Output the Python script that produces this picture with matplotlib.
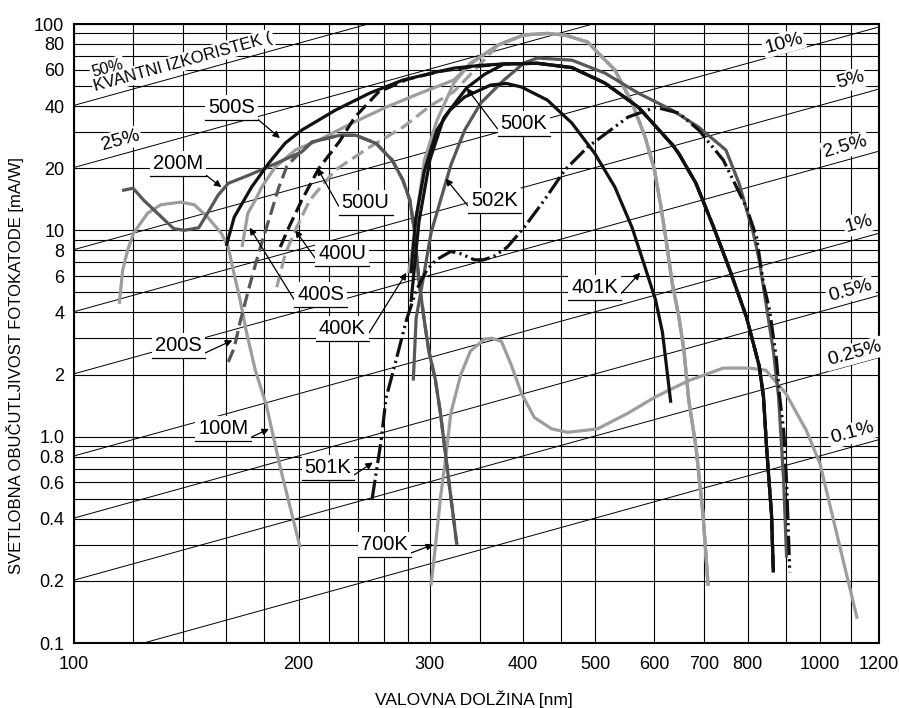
import numpy as np
import matplotlib
matplotlib.use("Agg")
import matplotlib.pyplot as plt

plt.rcParams['font.family'] = ['Liberation Sans', 'DejaVu Sans']

# spectral response of photocathodes: wavelength [nm] -> sensitivity [mA/W]

nm_100m = [115, 116.2, 118, 120.2, 125.5, 130.7, 139, 145, 151, 157.5, 161, 163.5, 167, 170, 175, 181, 189, 201]
ma_100m = [4.4, 6.4, 8.0, 9.7, 12.1, 13.3, 13.7, 13.3, 11.6, 9.7, 8.3, 6.4, 4.6, 3.3, 2.1, 1.43, 0.71, 0.29]

nm_200m = [116, 120, 124, 131, 136, 140.5, 147, 151, 156, 161, 171.5, 186, 202, 208.5, 227, 238.5,
           254, 267, 276, 282, 286, 290, 295, 299, 305, 310, 318, 326]
ma_200m = [15.6, 16.0, 14.0, 11.6, 10.2, 10.0, 10.3, 12.1, 14.8, 16.9, 18.5, 21, 24, 26.8, 28.9, 28.9,
           26.4, 21.9, 17.5, 14.0, 10.0, 5.7, 3.6, 2.6, 1.9, 1.29, 0.61, 0.30]

# 200S runs into the 200M curve above ~208 nm
nm_200s = [161, 164, 167, 171, 175, 179, 183, 188, 193, 200] + nm_200m[13:]
ma_200s = [2.3, 2.7, 3.6, 5.0, 6.8, 9.0, 11.6, 16.0, 20.5, 23.5] + ma_200m[13:]

# common long-wavelength branch of the bialkali cathodes
bialk_nm = [370, 401, 431, 455, 488, 531, 560, 583, 600, 611, 621, 634, 647, 657, 667, 682, 697, 708]
bialk_ma = [79, 88.5, 90, 88.4, 81.8, 59.8, 41.4, 28.3, 19.6, 13.5, 9.3, 5.5, 3.8, 2.63, 1.5, 0.89, 0.42, 0.19]

nm_400k = [281, 284, 287.5, 295, 306.5, 323, 340] + bialk_nm
ma_400k = [6.2, 8.0, 11.2, 21.9, 34, 51.7, 64.7] + bialk_ma

nm_400u = [187, 192, 198, 207, 224, 249, 276, 300, 323, 340] + bialk_nm
ma_400u = [5.3, 7.7, 10.0, 14.0, 19.6, 25.3, 31.6, 40, 47, 57] + bialk_ma

nm_400s = [168, 171, 175, 178.5, 186, 198, 213, 236, 262, 291, 323, 340] + bialk_nm
ma_400s = [8.3, 12.1, 14.0, 16.2, 20.2, 24.5, 27.4, 33.1, 39.5, 46.2, 53.5, 64] + bialk_ma

nm_401k = [283, 287, 295, 306.5, 319, 334, 362, 380, 398, 431, 465, 499, 531, 560, 583, 602, 615, 631]
ma_401k = [6.2, 11.2, 19.5, 30.6, 38.2, 44.3, 50.6, 51.5, 49.5, 42.8, 33.1, 23.6, 16.2, 10.3, 6.6, 4.6, 3.2, 1.46]

# common long-wavelength branch of the multialkali cathodes
multi_nm = [377, 418, 465, 515, 571, 634, 647, 682, 719, 755, 797, 829, 840, 848, 861, 866]
multi_ma = [64, 64.5, 61.5, 51.7, 39.5, 26, 23.5, 16.9, 10.5, 6.6, 3.8, 2.2, 1.56, 0.89, 0.42, 0.22]

nm_500s = [160, 164, 173, 182.5, 192, 202, 224, 249, 276, 306, 323, 350] + multi_nm
ma_500s = [8.4, 11.6, 16.2, 21.2, 26.5, 30.6, 38.2, 46.2, 53.5, 58.5, 61.1, 63] + multi_ma

nm_500u = [189, 194, 202, 213, 227, 238, 256, 280, 310, 340] + multi_nm
ma_500u = [8.3, 10.3, 14.0, 20.0, 27, 35.4, 46.8, 54, 59, 62] + multi_ma

nm_500k = [283, 290, 300, 313, 336, 355] + multi_nm
ma_500k = [4.5, 11, 22, 35, 49, 57] + multi_ma

nm_501k = [251, 258, 262, 268, 279, 287.5, 297, 306, 320, 330, 344, 354, 366, 381, 401, 427, 455, 488,
           553, 602, 647, 688, 742, 765, 797, 822, 840, 856, 874, 883, 894, 902, 911]
ma_501k = [0.5, 0.95, 1.54, 2.09, 3.67, 5.1, 6.4, 7.2, 7.9, 7.7, 7.2, 7.2, 7.5, 8.3, 10.3, 14.0, 19.6, 25.3,
           35.4, 39.5, 37, 30.6, 21.9, 17.5, 12.9, 9.3, 5.5, 4.1, 2.4, 1.56, 1.07, 0.61, 0.22]

nm_502k = [285, 287.5, 294, 301, 310, 320, 334, 351, 377, 401, 418, 465, 515, 571, 634, 688, 748, 779,
           814, 829, 866, 880, 894, 902]
ma_502k = [1.87, 3.75, 5.9, 9.7, 14.0, 20.7, 30.6, 41.4, 53.5, 64.7, 68.4, 66.8, 57.8, 46.2, 38.2, 31.6, 24.5,
           16.9, 9.7, 7.2, 2.6, 1.56, 0.61, 0.26]

nm_700k = [301, 305, 310, 315, 320, 330, 340, 355, 363, 374, 385, 398, 414, 437, 459, 503, 553, 602, 667,
           742, 804, 846, 900, 959, 1000, 1064, 1122]
ma_700k = [0.19, 0.29, 0.51, 0.79, 1.30, 2.0, 2.6, 2.97, 3.0, 2.9, 2.26, 1.62, 1.24, 1.09, 1.05, 1.09, 1.30,
           1.56, 1.87, 2.15, 2.15, 2.1, 1.62, 1.07, 0.74, 0.29, 0.131]

qe_levels = [50, 25, 10, 5, 2.5, 1, 0.5, 0.25, 0.1]

x_ticks = [100, 200, 300, 400, 500, 600, 700, 800, 1000, 1200]
x_minor = [120, 140, 160, 180, 220, 240, 260, 280, 350, 450, 900, 1100]
y_ticks = [0.1, 0.2, 0.4, 0.6, 0.8, 1.0, 2, 4, 6, 8, 10, 20, 40, 60, 80, 100]
y_tick_labels = ['0.1', '0.2', '0.4', '0.6', '0.8', '1.0', '2', '4', '6', '8', '10', '20', '40', '60', '80', '100']
y_minor = [0.3, 0.5, 0.7, 0.9, 3, 5, 7, 9, 30, 50, 70, 90]

BLACK = '#111111'
DARK = '#575757'
LIGHT = '#9d9d9d'
DASH = (0, (4.2, 1.8))
DASH_DOT2 = (0, (6, 1.3, 0.7, 1.3, 0.7, 1.3))

curves = [
    (nm_700k, ma_700k, LIGHT, '-'),
    (nm_400k, ma_400k, LIGHT, '-'),
    (nm_400s, ma_400s, LIGHT, '-'),
    (nm_400u, ma_400u, LIGHT, DASH),
    (nm_100m, ma_100m, LIGHT, '-'),
    (nm_200m, ma_200m, DARK, '-'),
    (nm_200s, ma_200s, DARK, DASH),
    (nm_502k, ma_502k, DARK, '-'),
    (nm_401k, ma_401k, BLACK, '-'),
    (nm_500k, ma_500k, BLACK, '-'),
    (nm_500s, ma_500s, BLACK, '-'),
    (nm_500u, ma_500u, BLACK, DASH),
    (nm_501k, ma_501k, BLACK, DASH_DOT2),
]

# (text, text position, arrow tip, corner where the leader leaves the underline)
callouts = [
    ("500S", (162.6, 39.5), (188.8, 28.0), (1, 0)),
    ("200M", (137.9, 21.1), (157.6, 16.2), (1, 0)),
    ("500U", (246, 13.7), (212, 20.0), (0, 0)),
    ("400U", (229, 7.74), (198, 10.0), (0, 0)),
    ("400S", (214, 4.87), (172, 10.3), (0, 0)),
    ("400K", (229, 3.34), (279, 6.23), (1, 0)),
    ("200S", (138, 2.78), (163, 2.93), (1, 0)),
    ("100M", (158.6, 1.09), (182.5, 1.09), (1, 0)),
    ("501K", (219, 0.71), (251.5, 0.75), (1, 0)),
    ("700K", (261, 0.30), (303, 0.30), (1, 0)),
    ("500K", (401, 33.0), (336, 48.9), (0, 0)),
    ("502K", (366, 14.0), (315, 17.8), (0, 0)),
    ("401K", (499, 5.3), (574, 6.23), (1, 0)),
]

# quantum-efficiency labels along the diagonal lines
qe_labels = [
    ("10%", (894, 80.9), 14), ("5%", (1098, 53.5), 14), ("2.5%", (1081, 25.3), 14),
    ("1%", (1129, 10.8), 14), ("0.5%", (1098, 5.1), 14), ("0.25%", (1112, 2.53), 14),
    ("0.1%", (1105, 1.04), 14), ("25%", (115.4, 27.3), 14), ("50%", (110.8, 61.2), 11.5),
    ("KVANTNI IZKORISTEK (", (140, 65.5), 12),
]

fig = plt.figure(figsize=(8.99, 7.08), dpi=100)
ax = fig.add_axes([0.0823, 0.0918, 0.8955, 0.8743])
ax.set_xscale('log')
ax.set_yscale('log')
ax.set_xlim(100, 1200)
ax.set_ylim(0.1, 100)

ax.set_xticks(x_ticks)
ax.set_xticklabels([str(v) for v in x_ticks])
ax.set_xticks(x_minor, minor=True)
ax.set_yticks(y_ticks)
ax.set_yticklabels(y_tick_labels)
ax.set_yticks(y_minor, minor=True)
ax.tick_params(which='both', length=0, labelsize=13)
ax.tick_params(axis='y', pad=7)
ax.tick_params(axis='x', pad=9)
ax.xaxis.set_minor_formatter(plt.NullFormatter())
ax.yaxis.set_minor_formatter(plt.NullFormatter())
ax.grid(which='both', color='black', lw=0.8, zorder=1)
ax.set_axisbelow(True)
for sp in ax.spines.values():
    sp.set_linewidth(1.5)

wl = np.array([100.0, 1200.0])
for q in qe_levels:
    ax.plot(wl, q / 100 * wl / 1.23984, color='black', lw=0.7, zorder=1.5)

for nm, ma, col, ls in curves:
    ax.plot(nm, ma, color=col, ls=ls, lw=2.3, zorder=3, solid_capstyle='butt')

# angle of the quantum-efficiency lines on screen
p0, p1 = ax.transData.transform([(200, 10), (400, 20)])
qe_angle = np.degrees(np.arctan2(p1[1] - p0[1], p1[0] - p0[0]))

for txt, pos, fs in qe_labels:
    ax.text(pos[0], pos[1], txt, fontsize=fs, rotation=qe_angle, rotation_mode='anchor',
            ha='center', va='center', zorder=4,
            bbox=dict(boxstyle='square,pad=0.1', fc='white', ec='none'))

notes = []
for txt, pos, tip, corner in callouts:
    ann = ax.annotate(txt, xy=tip, xytext=pos, fontsize=14.5, ha='center', va='center', zorder=5,
                      bbox=dict(boxstyle='square,pad=0.15', fc='white', ec='none'),
                      arrowprops=dict(arrowstyle='-|>', color='black', lw=0.9, shrinkA=0, shrinkB=0,
                                      relpos=corner, mutation_scale=10))
    notes.append(ann)

ax.set_xlabel('VALOVNA DOLŽINA [nm]', fontsize=12.5)
ax.set_ylabel('SVETLOBNA OBUČUTLJIVOST FOTOKATODE [mA/W]', fontsize=12)
ax.xaxis.set_label_coords(0.497, -0.077)
ax.yaxis.set_label_coords(-0.062, 0.449)

# underline each callout text; the leader starts at one end of it
fig.canvas.draw()
inv = ax.transAxes.inverted()
for ann in notes:
    bb = ann.get_bbox_patch().get_window_extent()
    (x0, y0), (x1, _) = inv.transform([[bb.x0, bb.y0], [bb.x1, bb.y0]])
    ax.plot([x0, x1], [y0, y0], transform=ax.transAxes, color='black', lw=0.9,
            clip_on=False, zorder=5)

fig.savefig('out.png', dpi=100)
